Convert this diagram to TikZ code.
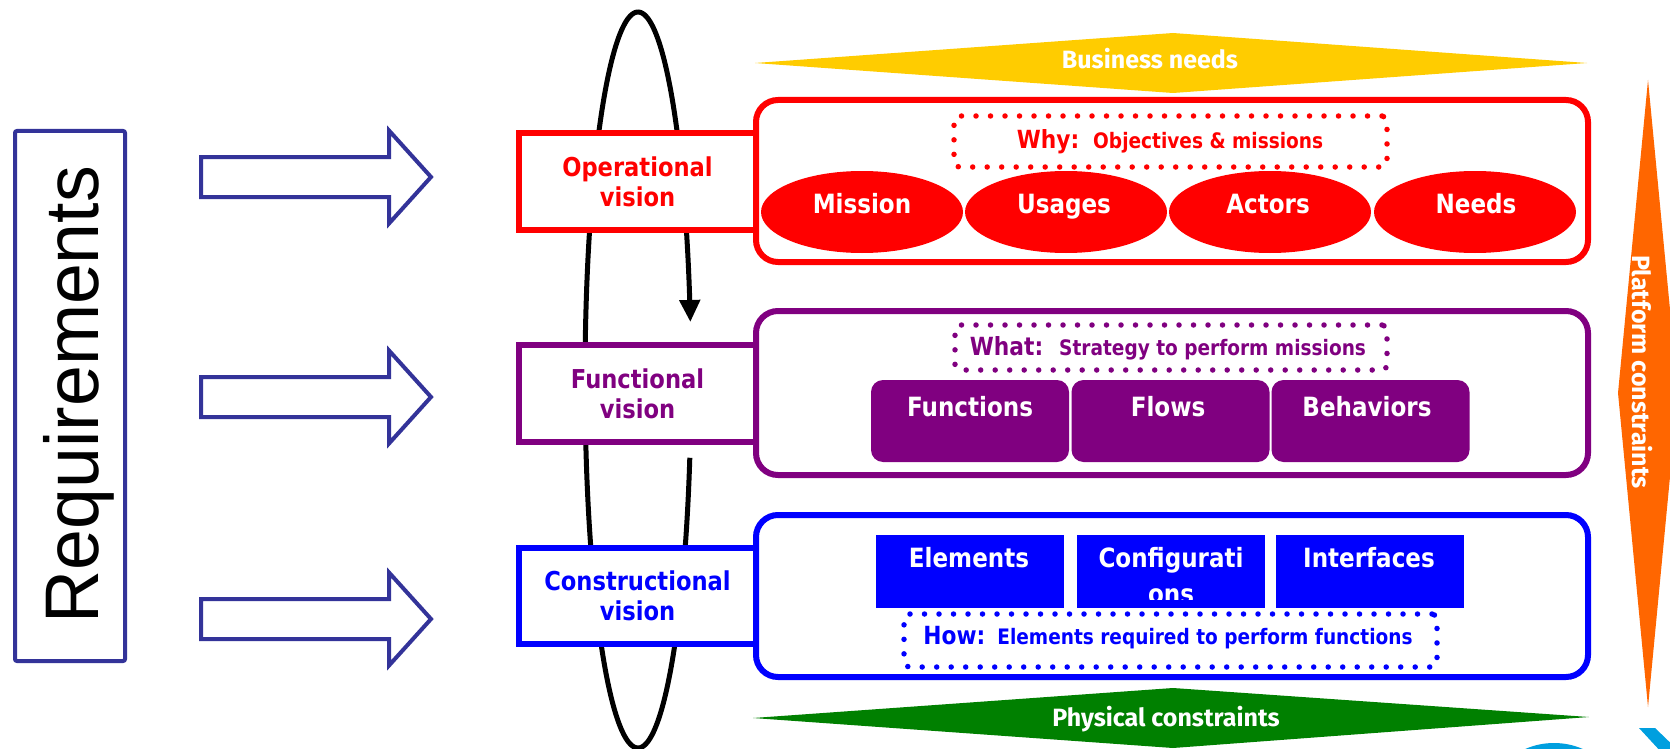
\documentclass[tikz,border=0pt]{standalone}
\usepackage{fontspec}
\newfontfamily\lblfont{DejaVu Sans}[FakeStretch=0.87]
\newfontfamily\kitefont{Fira Sans}
\newfontfamily\reqfont{Liberation Sans}[FakeStretch=0.966]
\usetikzlibrary{arrows.meta,shapes.geometric}
\definecolor{reqblue}{HTML}{333399}
\definecolor{opred}{HTML}{FF0000}
\definecolor{fnpurple}{HTML}{800080}
\definecolor{cnblue}{HTML}{0000FF}
\definecolor{bizyellow}{HTML}{FFCC00}
\definecolor{phygreen}{HTML}{008000}
\definecolor{platorange}{HTML}{FF6600}
\definecolor{logocyan}{HTML}{009FDF}
\tikzset{
  visionbox/.style={draw=#1, line width=6pt, fill=white, minimum width=237pt, minimum height=97pt,
    inner sep=0pt, align=center, text=#1, font=\lblfont\bfseries\fontsize{26}{30}\selectfont},
  bigbox/.style={draw=#1, line width=6pt, rounded corners=22pt, fill=white,
    minimum width=832pt, minimum height=162pt, inner sep=0pt},
  dotbox/.style={draw=#1, line width=5.5pt, dash pattern=on 0pt off 14.5pt, line cap=round,
    rounded corners=5pt, inner sep=0pt},
  ovalitem/.style={ellipse, fill=opred, minimum width=202pt, minimum height=82pt, inner sep=0pt},
  funcitem/.style={fill=fnpurple, rounded corners=12pt, minimum width=198pt, minimum height=82pt, inner sep=0pt},
  consitem/.style={fill=cnblue, minimum width=188pt, minimum height=73pt, inner sep=0pt},
  itemtext/.style={text=white, font=\lblfont\bfseries\fontsize{26.5}{26.5}\selectfont, inner sep=0pt, anchor=base},
  headtext/.style={text=#1, font=\lblfont\bfseries, inner sep=0pt, anchor=base},
  kitetext/.style={text=white, font=\kitefont\bfseries\fontsize{25}{25}\selectfont, inner sep=0pt, anchor=base},
  harrow/.pic={\draw[draw=reqblue, line width=4pt, fill=white, line join=miter]
    (0,-20) -- (188,-20) -- (188,-46.5) -- (230,0) -- (188,46.5) -- (188,20) -- (0,20) -- cycle;}
}
\newcommand\whyhead[1]{{\fontsize{25}{25}\selectfont #1}}
\newcommand\whysub[1]{{\fontsize{21.3}{21.3}\selectfont #1}}
\begin{document}
\begin{tikzpicture}[x=1pt,y=-1pt]
\clip (0,0) rectangle (1670,749);
\fill[white] (0,0) rectangle (1670,749);

% Requirements
\node[draw=reqblue, line width=4pt, rounded corners=2pt, minimum width=110pt, minimum height=530pt, inner sep=0pt] (req) at (70,396) {};
\node[rotate=90, anchor=base, inner sep=0pt, font=\reqfont\fontsize{76}{76}\selectfont] (reqtxt) at (98,394.5) {Requirements};

% hollow arrows
\pic (arrA) at (201,177) {harrow};
\pic (arrB) at (201,397) {harrow};
\pic (arrC) at (201,619) {harrow};

% loop
\draw[line width=5pt, -{Triangle[length=22pt,width=20pt]}]
  plot[domain=12.2:350.93, samples=240] ({638+53*cos(\x)},{380+368*sin(\x)});

% kites
\fill[bizyellow] (755,63) -- (1173,33) -- (1587,63) -- (1173,93) -- cycle;
\node[kitetext] (biz) at (1150,69) {Business needs};
\fill[phygreen] (753,718) -- (1173,688) -- (1589,717) -- (1173,748) -- cycle;
\node[kitetext] (phy) at (1166,726) {Physical constraints};
\fill[platorange] (1648,80) -- (1678,393) -- (1648,707) -- (1618,393) -- cycle;
\node[kitetext, rotate=-90] (plat) at (1632,372) {Platform constraints};

% operational
\node[bigbox=opred] (opbig) at (1172,181) {};
\node[visionbox=opred] (opv) at (637.5,181.5) {Operational\\vision};
\node[dotbox=opred, minimum width=433pt, minimum height=51pt] (why) at (1170.5,141.5) {};
\node[headtext=opred] (whytxt) at (1170,148) {\whyhead{Why:}\hspace{14pt}\whysub{Objectives \& missions}};
\node[ovalitem] (miss) at (862,212) {};
\node[ovalitem] (usag) at (1066,212) {};
\node[ovalitem] (actr) at (1270,212) {};
\node[ovalitem] (need) at (1475,212) {};
\node[itemtext] (misst) at (862,213) {Mission};
\node[itemtext] (usagt) at (1064,213) {Usages};
\node[itemtext] (actrt) at (1268,213) {Actors};
\node[itemtext] (needt) at (1476,213) {Needs};

% functional
\node[bigbox=fnpurple, minimum height=164pt] (fnbig) at (1172,393) {};
\node[visionbox=fnpurple] (fnv) at (637.5,393.5) {Functional\\vision};
\node[dotbox=fnpurple, minimum width=432pt, minimum height=45pt] (what) at (1171,347.5) {};
\node[headtext=fnpurple] (whattxt) at (1168,355) {\whyhead{What:}\hspace{16pt}\whysub{Strategy to perform missions}};
\node[funcitem] (func) at (970,421) {};
\node[funcitem] (flow) at (1170.5,421) {};
\node[funcitem] (behv) at (1370.5,421) {};
\node[itemtext] (funct) at (970,416) {Functions};
\node[itemtext] (flowt) at (1168,416) {Flows};
\node[itemtext] (behvt) at (1367,416) {Behaviors};

% constructional
\node[bigbox=cnblue] (cnbig) at (1172,596) {};
\node[visionbox=cnblue, minimum height=96pt] (cnv) at (637.5,596) {Constructional\\vision};
\node[consitem] (elem) at (969.5,571.5) {};
\node[consitem] (conf) at (1171,571.5) {};
\node[consitem] (intf) at (1369.5,571.5) {};
\node[itemtext] (elemt) at (969,567) {Elements};
\begin{scope}
  \clip (1077,535) rectangle (1265,599);
  \node[itemtext] (conft) at (1171,567) {Configurati};
  \node[itemtext] (confu) at (1171,603) {ons};
\end{scope}
\node[itemtext] (intft) at (1369,567) {Interfaces};
\node[dotbox=cnblue, minimum width=533pt, minimum height=53pt] (how) at (1170.5,640.5) {};
\node[headtext=cnblue] (howtxt) at (1168,644) {\whyhead{How:}\hspace{12pt}\whysub{Elements required to perform functions}};

% logo fragment
\fill[logocyan] (1554,815) circle[radius=72];
\fill[logocyan] (1639,728) -- (1655,728) -- (1682,754) -- (1663,754) -- cycle;
\end{tikzpicture}
\end{document}
